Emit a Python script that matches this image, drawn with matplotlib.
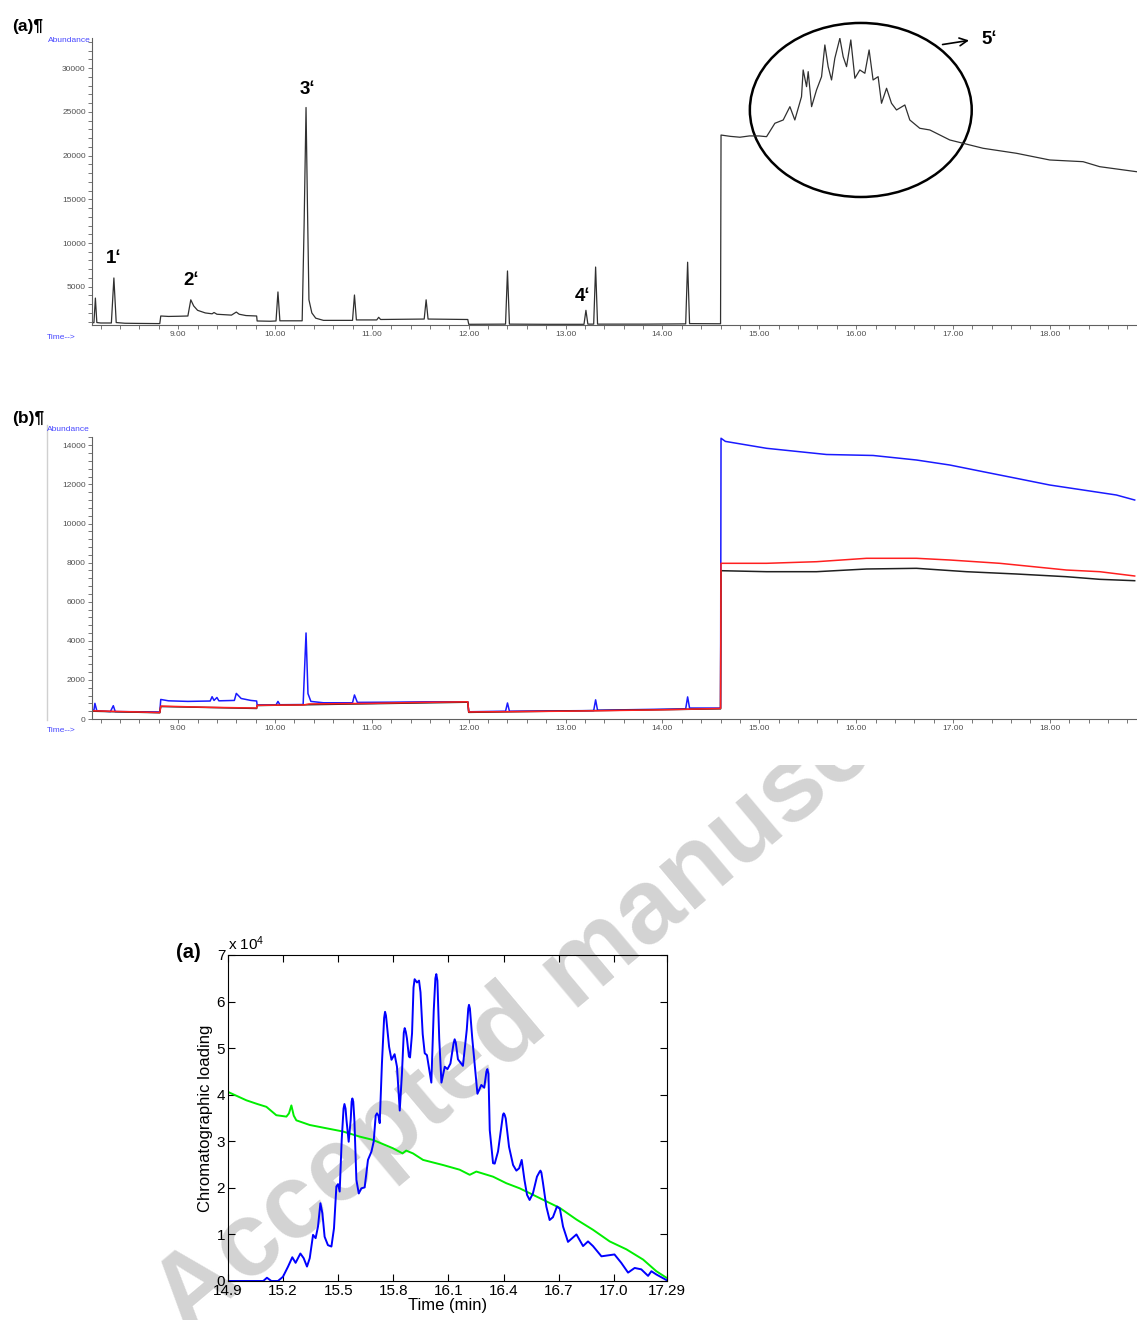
import matplotlib
matplotlib.use("Agg")
import matplotlib.pyplot as plt
from matplotlib.patches import Ellipse
from matplotlib.lines import Line2D
from matplotlib.ticker import MultipleLocator, FormatStrFormatter
from matplotlib.transforms import Bbox, TransformedBbox

plt.rcParams['font.family'] = ['Liberation Sans', 'DejaVu Sans']
plt.rcParams['mathtext.fontset'] = 'custom'
plt.rcParams['mathtext.rm'] = 'Liberation Sans'
plt.rcParams['mathtext.it'] = 'Liberation Sans:italic'

W, H = 1137, 1320

# ---- (a) total ion chromatogram, time in min / abundance
a_time = [8.11, 8.13, 8.145, 8.16, 8.20, 8.31, 8.336, 8.36, 8.45, 8.60, 8.81, 8.82,
          8.90, 9.00, 9.10, 9.13, 9.16, 9.20, 9.28, 9.35, 9.37, 9.40, 9.55, 9.60,
          9.63, 9.70, 9.81, 9.815, 9.95, 10.01, 10.03, 10.05, 10.28, 10.30, 10.32,
          10.335, 10.35, 10.38, 10.42, 10.50, 10.80, 10.82, 10.84, 11.05, 11.07,
          11.09, 11.54, 11.56, 11.58, 11.99, 12.00, 12.38, 12.40, 12.42, 12.80,
          13.19, 13.21, 13.23, 13.29, 13.31, 13.33, 13.80, 14.24, 14.26, 14.28,
          14.60, 14.605, 14.70, 14.80, 14.90, 15.00, 15.075, 15.161, 15.247, 15.316,
          15.367, 15.436, 15.453, 15.488, 15.505, 15.540, 15.591, 15.643, 15.677,
          15.711, 15.746, 15.780, 15.832, 15.866, 15.901, 15.945, 15.987, 16.038,
          16.090, 16.134, 16.175, 16.227, 16.262, 16.314, 16.365, 16.417, 16.503,
          16.554, 16.657, 16.761, 16.864, 16.967, 17.104, 17.311, 17.655, 17.999,
          18.343, 18.515, 18.894]
a_abund = [900, 880, 3700, 900, 850, 850, 6000, 900, 820, 800, 780, 1650,
           1600, 1620, 1650, 3500, 2800, 2300, 2000, 1900, 2050, 1850, 1750, 2100,
           1850, 1700, 1650, 1080, 1050, 1080, 4400, 1100, 1100, 12000, 25500,
           14000, 3500, 2000, 1400, 1150, 1150, 4050, 1200, 1200, 1500,
           1250, 1300, 3500, 1300, 1250, 700, 720, 6800, 720, 700,
           700, 2300, 720, 720, 7250, 720, 720, 750, 7800, 780,
           760, 22350, 22200, 22100, 22250, 22243, 22163, 23696, 24073, 25595,
           24073, 26739, 29794, 27883, 29600, 25595, 27506, 29027, 32654,
           30172, 28650, 31133, 33421, 31316, 30172, 33227, 28844, 29794,
           29416, 32082, 28650, 29027, 25984, 27700, 25984, 25217, 25789,
           24073, 23124, 22929, 22357, 21785, 21407, 20835, 20263, 19497,
           19302, 18730, 18158]
peak_labels = ['1ʻ', '2ʻ', '3ʻ', '4ʻ', '5ʻ']
peak_label_time = [8.33, 9.13, 10.33, 13.18, 17.37]
peak_label_abund = [8284, 5767, 27506, 3936, 33227]

# ---- (b) three overlaid chromatograms
b_blue_time = [8.11, 8.13, 8.14, 8.16, 8.30, 8.33, 8.35, 8.60, 8.81, 8.82, 8.90,
               9.10, 9.33, 9.35, 9.37, 9.40, 9.42, 9.58, 9.60, 9.65, 9.75, 9.81,
               9.815, 10.01, 10.03, 10.05, 10.29, 10.32, 10.34, 10.37, 10.50, 10.80,
               10.82, 10.85, 11.20, 11.56, 11.99, 12.00, 12.38, 12.40, 12.42, 13.29,
               13.31, 13.33, 14.24, 14.26, 14.28, 14.60, 14.605, 14.65, 15.075,
               15.694, 16.175, 16.623, 16.967, 17.311, 17.655, 17.999, 18.343,
               18.687, 18.876]
b_blue = [460, 450, 800, 420, 380, 680, 380, 370, 360, 1000, 930,
          900, 920, 1140, 950, 1100, 930, 950, 1310, 1050, 950, 920,
          720, 720, 900, 730, 740, 4400, 1300, 900, 830, 830,
          1230, 850, 860, 880, 880, 370, 400, 820, 400, 430,
          980, 450, 520, 1130, 560, 560, 14360, 14200, 13847,
          13530, 13480, 13248, 12992, 12650, 12311, 11969, 11714,
          11458, 11202]
b_red_time = [8.11, 8.81, 8.82, 9.30, 9.81, 9.815, 10.30, 10.35, 11.00, 11.50, 11.99,
              12.00, 13.00, 14.00, 14.60, 14.605, 15.075, 15.591, 16.107, 16.623,
              16.967, 17.483, 17.827, 18.171, 18.515, 18.876]
b_red = [420, 330, 660, 600, 560, 700, 720, 770, 800, 850, 880,
         360, 400, 470, 540, 7964, 7964, 8046, 8220, 8220,
         8133, 7964, 7793, 7621, 7535, 7315]
b_black_time = [8.11, 8.81, 8.82, 9.81, 9.815, 11.99, 12.00, 14.60, 14.605, 15.075,
                15.591, 16.107, 16.623, 17.139, 17.655, 18.171, 18.515, 18.876]
b_black = [400, 320, 640, 540, 690, 860, 340, 520, 7586, 7535,
           7535, 7673, 7708, 7535, 7417, 7279, 7145, 7074]

# ---- (c) chromatographic loadings (x 10^4)
c_blue_time = [14.9, 15.092, 15.112, 15.136, 15.172, 15.199, 15.227, 15.250, 15.268,
               15.294, 15.312, 15.330, 15.345, 15.363, 15.377, 15.390, 15.403, 15.414,
               15.426, 15.444, 15.463, 15.477, 15.490, 15.499, 15.508, 15.519, 15.529,
               15.534, 15.540, 15.545, 15.557, 15.568, 15.573, 15.577, 15.582, 15.588,
               15.599, 15.612, 15.626, 15.644, 15.662, 15.681, 15.693, 15.704, 15.711,
               15.719, 15.726, 15.738, 15.750, 15.755, 15.760, 15.766, 15.777, 15.790,
               15.807, 15.820, 15.835, 15.847, 15.857, 15.862, 15.868, 15.874, 15.885,
               15.891, 15.902, 15.910, 15.916, 15.929, 15.940, 15.948, 15.960, 15.971,
               15.983, 16.007, 16.020, 16.029, 16.034, 16.040, 16.050, 16.062, 16.080,
               16.095, 16.111, 16.128, 16.134, 16.140, 16.152, 16.179, 16.200, 16.208,
               16.212, 16.217, 16.230, 16.258, 16.279, 16.295, 16.307, 16.312, 16.318,
               16.325, 16.343, 16.352, 16.370, 16.388, 16.397, 16.401, 16.406, 16.412,
               16.430, 16.452, 16.470, 16.485, 16.499, 16.514, 16.528, 16.542, 16.560,
               16.582, 16.597, 16.601, 16.606, 16.615, 16.633, 16.651, 16.669, 16.691,
               16.707, 16.724, 16.751, 16.797, 16.833, 16.860, 16.887, 16.933, 17.004,
               17.041, 17.078, 17.114, 17.150, 17.187, 17.205, 17.232, 17.287]
c_blue = [0, 0, 0.07, 0, 0, 0.09, 0.31, 0.51, 0.39,
          0.59, 0.49, 0.31, 0.49, 0.99, 0.92, 1.17, 1.67, 1.45,
          0.95, 0.77, 0.74, 1.13, 2.03, 2.08, 1.92, 3.03, 3.70,
          3.80, 3.70, 3.46, 2.99, 3.46, 3.85, 3.92, 3.85, 3.46,
          2.17, 1.88, 1.99, 2.01, 2.60, 2.78, 2.99, 3.55, 3.60,
          3.55, 3.39, 4.67, 5.65, 5.78, 5.70, 5.46, 5.03, 4.75,
          4.87, 4.60, 3.66, 4.46, 5.33, 5.43, 5.35, 5.21, 4.82,
          4.80, 5.32, 6.30, 6.48, 6.41, 6.45, 6.20, 5.30, 4.89,
          4.85, 4.26, 5.80, 6.50, 6.59, 6.45, 5.20, 4.26, 4.60,
          4.55, 4.67, 5.10, 5.19, 5.12, 4.76, 4.62, 5.40, 5.85,
          5.93, 5.85, 5.20, 4.02, 4.21, 4.15, 4.50, 4.55, 4.45,
          3.24, 2.53, 2.52, 2.78, 3.31, 3.57, 3.60, 3.57, 3.49,
          2.88, 2.49, 2.37, 2.42, 2.60, 2.17, 1.85, 1.74, 1.88,
          2.24, 2.35, 2.37, 2.33, 2.10, 1.60, 1.31, 1.37, 1.60,
          1.55, 1.17, 0.84, 1.00, 0.75, 0.85, 0.75, 0.53, 0.57,
          0.39, 0.18, 0.28, 0.25, 0.11, 0.21, 0.14, 0.02]
c_green_time = [14.9, 15.0, 15.06, 15.109, 15.163, 15.218, 15.232, 15.245, 15.258,
                15.272, 15.345, 15.435, 15.526, 15.617, 15.689, 15.798, 15.85, 15.87,
                15.907, 15.962, 16.071, 16.161, 16.216, 16.252, 16.343, 16.415, 16.488,
                16.561, 16.633, 16.706, 16.797, 16.887, 16.978, 17.069, 17.160, 17.232,
                17.287]
c_green = [4.06, 3.88, 3.80, 3.74, 3.56, 3.53, 3.60, 3.77, 3.55,
           3.45, 3.35, 3.28, 3.21, 3.10, 3.03, 2.85, 2.74, 2.80,
           2.74, 2.60, 2.49, 2.39, 2.28, 2.35, 2.24, 2.10, 1.99,
           1.85, 1.71, 1.57, 1.32, 1.10, 0.85, 0.68, 0.46, 0.21,
           0.07]
c_xticks = [14.9, 15.2, 15.5, 15.8, 16.1, 16.4, 16.7, 17.0, 17.29]
c_xticklabels = ['14.9', '15.2', '15.5', '15.8', '16.1', '16.4', '16.7', '17.0', '17.29']


def box(l, t, r, b):
    return [l / W, 1 - b / H, (r - l) / W, (b - t) / H]


def chemstation_axes(ax, ymax_major, ymin_step):
    for s in ['top', 'right']:
        ax.spines[s].set_visible(False)
    for s in ['left', 'bottom']:
        ax.spines[s].set_color('#606060')
        ax.spines[s].set_linewidth(0.8)
    ax.set_xlim(8.11, 18.9)
    ax.xaxis.set_major_locator(MultipleLocator(1.0))
    ax.xaxis.set_minor_locator(MultipleLocator(0.2))
    ax.xaxis.set_major_formatter(FormatStrFormatter('%.2f'))
    ax.yaxis.set_major_locator(MultipleLocator(ymax_major))
    ax.yaxis.set_minor_locator(MultipleLocator(ymin_step))
    ax.tick_params(which='both', direction='out', length=3, width=0.6, color='#606060',
                   labelsize=6, labelcolor='#505050', pad=1.5)
    ax.patch.set_alpha(0)


fig = plt.figure(figsize=(W / 100, H / 100), dpi=100)

# watermark, hidden behind the upper image area
wm = fig.text(187 / W, 1 - 1336 / H, 'Accepted manuscript', rotation=40, rotation_mode='anchor',
              ha='left', va='baseline', fontsize=76, fontweight='bold', color='#d3d3d3', zorder=-1)
wm.set_clip_box(TransformedBbox(Bbox([[0, 0], [1, 1 - 765 / H]]), fig.transFigure))

# panel (a)
ax1 = fig.add_axes(box(92, 38, 1137, 325))
ax1.plot(a_time, a_abund, color='#303030', lw=0.9)
ax1.set_ylim(620, 33450)
chemstation_axes(ax1, 5000, 1000)
ax1.yaxis.set_major_formatter(FormatStrFormatter('%d'))
ax1.set_yticks([5000, 10000, 15000, 20000, 25000, 30000])
for lab, t, v in zip(peak_labels, peak_label_time, peak_label_abund):
    ax1.text(t, v, lab, ha='center', va='center', fontsize=13.5, fontweight='bold', clip_on=False)
ax1.add_patch(Ellipse((16.048, 25217), 2.291, 19908, fill=False, ec='black', lw=1.8, clip_on=False))
ax1.annotate('', xy=(17.194, 33227), xytext=(16.864, 32654), annotation_clip=False,
             arrowprops=dict(arrowstyle='->', lw=1.2, color='black', mutation_scale=14))
fig.text(12 / W, 1 - 26 / H, '(a)¶', fontsize=12.5, fontweight='bold', ha='left', va='center')
fig.text(48 / W, 1 - 41 / H, 'Abundance', fontsize=6, color='#4646ff', ha='left', va='center')
fig.text(47 / W, 1 - 337 / H, 'Time-->', fontsize=6, color='#4646ff', ha='left', va='center')

# panel (b)
ax2 = fig.add_axes(box(92, 437, 1137, 719))
ax2.plot(b_blue_time, b_blue, color='#1a1aff', lw=1.1)
ax2.plot(b_black_time, b_black, color='#202020', lw=1.1)
ax2.plot(b_red_time, b_red, color='#ff2020', lw=1.1)
ax2.set_ylim(0, 14425)
chemstation_axes(ax2, 2000, 400)
ax2.yaxis.set_major_formatter(FormatStrFormatter('%d'))
fig.add_artist(Line2D([47 / W, 47 / W], [1 - 425 / H, 1 - 720 / H], color='#d0d0d0', lw=1))
fig.text(12 / W, 1 - 418 / H, '(b)¶', fontsize=12.5, fontweight='bold', ha='left', va='center')
fig.text(47 / W, 1 - 430 / H, 'Abundance', fontsize=6, color='#4646ff', ha='left', va='center')
fig.text(47 / W, 1 - 731 / H, 'Time-->', fontsize=6, color='#4646ff', ha='left', va='center')

# panel (c)
ax3 = fig.add_axes(box(228, 955, 667, 1281))
ax3.patch.set_alpha(0)
ax3.plot(c_green_time, c_green, color='#00ee00', lw=1.4)
ax3.plot(c_blue_time, c_blue, color='#0000ff', lw=1.4)
ax3.set_xlim(14.9, 17.29)
ax3.set_ylim(0, 7)
ax3.set_xticks(c_xticks)
ax3.set_xticklabels(c_xticklabels)
ax3.set_yticks(range(8))
ax3.tick_params(direction='in', length=5, width=0.8, top=True, right=True,
                labelsize=11, pad=2)
for s in ax3.spines.values():
    s.set_linewidth(0.8)
ax3.set_xlabel('Time (min)', fontsize=12, labelpad=0)
ax3.set_ylabel('Chromatographic loading', fontsize=12, labelpad=3)
ax3.text(0, 1.005, r'x 10$^4$', transform=ax3.transAxes, ha='left', va='bottom', fontsize=11)
fig.text(188 / W, 1 - 952 / H, '(a)', fontsize=14.5, fontweight='bold', ha='center', va='center')

fig.savefig('out.png', dpi=100)
